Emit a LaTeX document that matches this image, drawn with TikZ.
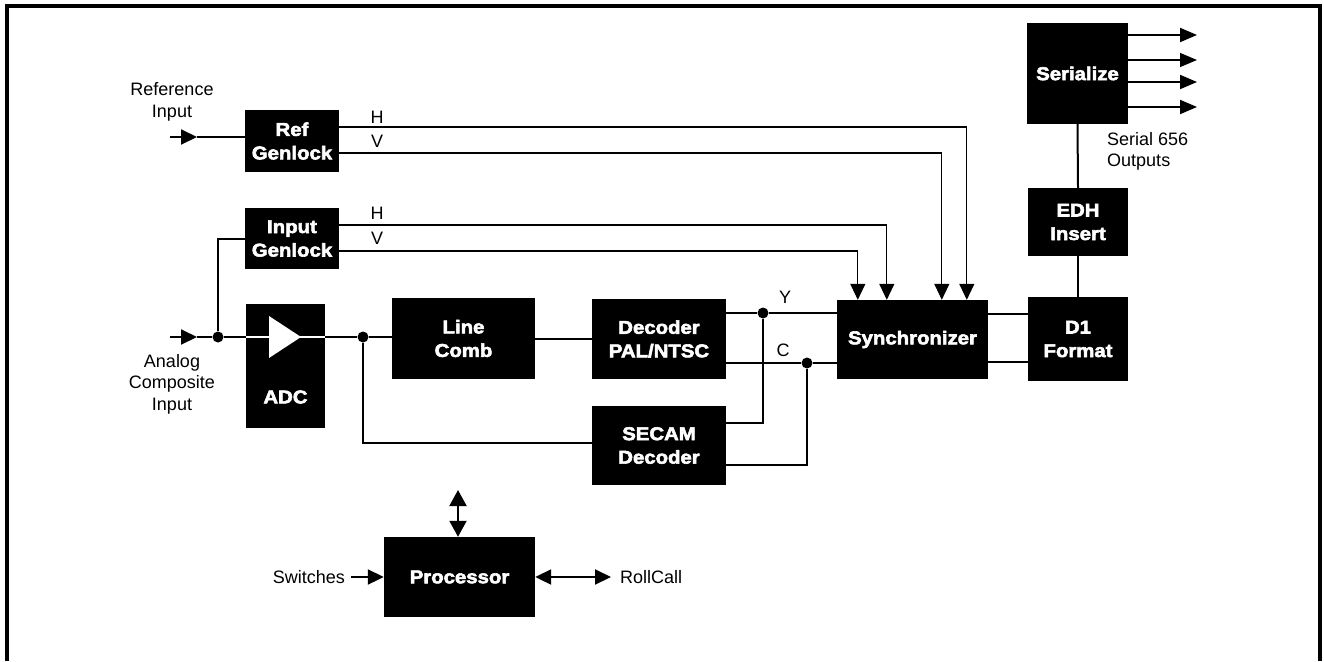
\documentclass[tikz,border=0pt]{standalone}
\usepackage{fontspec}
\setmainfont{Liberation Sans}
\newfontfamily\boxfont{Liberation Sans}[UprightFont=* Bold, FakeStretch=1.1, FakeBold=3]
\usetikzlibrary{arrows.meta,calc}
\begin{document}
\begin{tikzpicture}[x=1pt,y=-1pt,
  >={Triangle[length=16pt,width=15pt]},
  outarr/.style={-{Triangle[length=17pt,width=14pt]}},
  dblarr/.style={{Triangle[length=16pt,width=17pt]}-{Triangle[length=16pt,width=17pt]}},
  blk/.style={fill=black,draw=none,text=white,inner sep=0pt,align=center,
    font=\boxfont\fontsize{18.5}{23.5}\selectfont},
  lbl/.style={inner sep=0pt,align=center,font=\fontsize{18}{21.5}\selectfont},
  wire/.style={line width=2pt},
  thinw/.style={line width=1.2pt},
  dot/.style={circle,fill=black,inner sep=0pt,minimum size=11pt}]
\useasboundingbox (0,0) rectangle (1324,661);
% frame
\draw[line width=4pt,line join=miter] (7,661) -- (7,6) -- (1319.7,6) -- (1319.7,661);

% blocks
\node[blk,minimum width=94pt,minimum height=62pt] (ref) at (292,141) {Ref\\Genlock};
\node[blk,minimum width=94pt,minimum height=61pt] (ingen) at (292,238.5) {Input\\Genlock};
\node[blk,minimum width=79pt,minimum height=124pt] (adc) at (285.5,366) {};
\node[blk] (adclbl) at (285.5,397) {ADC};
\node[blk,minimum width=143pt,minimum height=81pt] (lcomb) at (463.5,338.5) {Line\\Comb};
\node[blk,minimum width=134pt,minimum height=80pt] (dec) at (659,339) {Decoder\\PAL/NTSC};
\node[blk,minimum width=134pt,minimum height=79pt] (secam) at (659,445.5) {SECAM\\Decoder};
\node[blk,minimum width=151pt,minimum height=79pt] (sync) at (912.5,339.5) {Synchronizer};
\node[blk,minimum width=100pt,minimum height=84pt] (d1) at (1078,339) {D1\\Format};
\node[blk,minimum width=100pt,minimum height=68pt] (edh) at (1078,222) {EDH\\Insert};
\node[blk,minimum width=101pt,minimum height=101pt] (ser) at (1077.5,73.5) {Serialize};
\node[blk,minimum width=151pt,minimum height=80pt] (proc) at (459.5,577) {Processor};

% ADC amplifier symbol
\draw[white,line width=2pt] (adc.west |- 0,337) -- (adc.east |- 0,337);
\fill[white] (269,316) -- (301,337) -- (269,358) -- cycle;

% labels
\node[lbl] (reflbl) at (172,102) {Reference\\Input};
\node[lbl] (anlbl) at (172,384) {Analog\\Composite\\Input};
\node[lbl] (h1) at (377,117) {H};
\node[lbl] (v1) at (377,141) {V};
\node[lbl] (h2) at (377,213) {H};
\node[lbl] (v2) at (377,238) {V};
\node[lbl] (ylbl) at (785,297) {Y};
\node[lbl] (clbl) at (783,350) {C};
\node[lbl,anchor=west,align=left] (serlbl) at (1107,151.5) {Serial 656\\Outputs};
\node[lbl,anchor=east] (sw) at (345,577) {Switches};
\node[lbl,anchor=west] (rc) at (620,577) {RollCall};

% coordinates / junctions
\coordinate (refin) at (170,137);
\coordinate (refarr) at (197,137);
\coordinate (ain) at (170,337);
\coordinate (ainarr) at (197,337);
\node[dot] (j1) at (218,337) {};
\node[dot] (j2) at (363,337) {};
\node[dot] (jy) at (763,313) {};
\node[dot] (jc) at (807,363) {};
\coordinate (o1) at (1197,35);
\coordinate (o2) at (1197,60);
\coordinate (o3) at (1197,82);
\coordinate (o4) at (1197,107);
\coordinate (pup) at (458,490);

% reference input
\draw[wire,->] (refin) -- (refarr);
\draw[wire] (refarr) -- (refin -| ref.west);
% analog input
\draw[wire,->] (ain) -- (ainarr);
\draw[wire] (ainarr) -- (j1) -- (j1 -| adc.west);
\draw[thinw] (j1) |- (ingen.west |- 0,239);
\draw[wire] (j2 -| adc.east) -- (j2) -- (j2 -| lcomb.west);
\draw[thinw] (j2) |- (secam.west |- 0,443);
\draw[wire] (lcomb.east |- 0,339) -- (dec.west |- 0,339);

% H / V sync lines
\draw[thinw,->] (ref.east |- 0,127) -| ([xshift=130pt]sync.north west);
\draw[thinw,->] (ref.east |- 0,153) -| ([xshift=105pt]sync.north west);
\draw[thinw,->] (ingen.east |- 0,225) -| ([xshift=50pt]sync.north west);
\draw[thinw,->] (ingen.east |- 0,251) -| ([xshift=21pt]sync.north west);

% Y / C
\draw[wire] (dec.east |- jy) -- (jy) -- (jy -| sync.west);
\draw[wire] (dec.east |- jc) -- (jc) -- (jc -| sync.west);
\draw[thinw] (secam.east |- 0,423) -| (jy);
\draw[thinw] (secam.east |- 0,465) -| (jc);

% sync to output chain
\draw[wire] (sync.east |- 0,314) -- (d1.west |- 0,314);
\draw[wire] (sync.east |- 0,362) -- (d1.west |- 0,362);
\draw[wire] (d1.north) -- (edh.south);
\draw[wire] (edh.north) -- (ser.south);
\draw[wire,outarr] (ser.east |- o1) -- (o1);
\draw[thinw,outarr] (ser.east |- o2) -- (o2);
\draw[wire,outarr] (ser.east |- o3) -- (o3);
\draw[wire,outarr] (ser.east |- o4) -- (o4);

% processor
\draw[wire,dblarr] (pup) -- (pup |- proc.north);
\draw[wire,->] ([xshift=6pt]sw.east) -- (sw.east -| proc.west);
\draw[wire,<->] (proc.east) -- ([xshift=-9pt]rc.west);
\end{tikzpicture}
\end{document}
